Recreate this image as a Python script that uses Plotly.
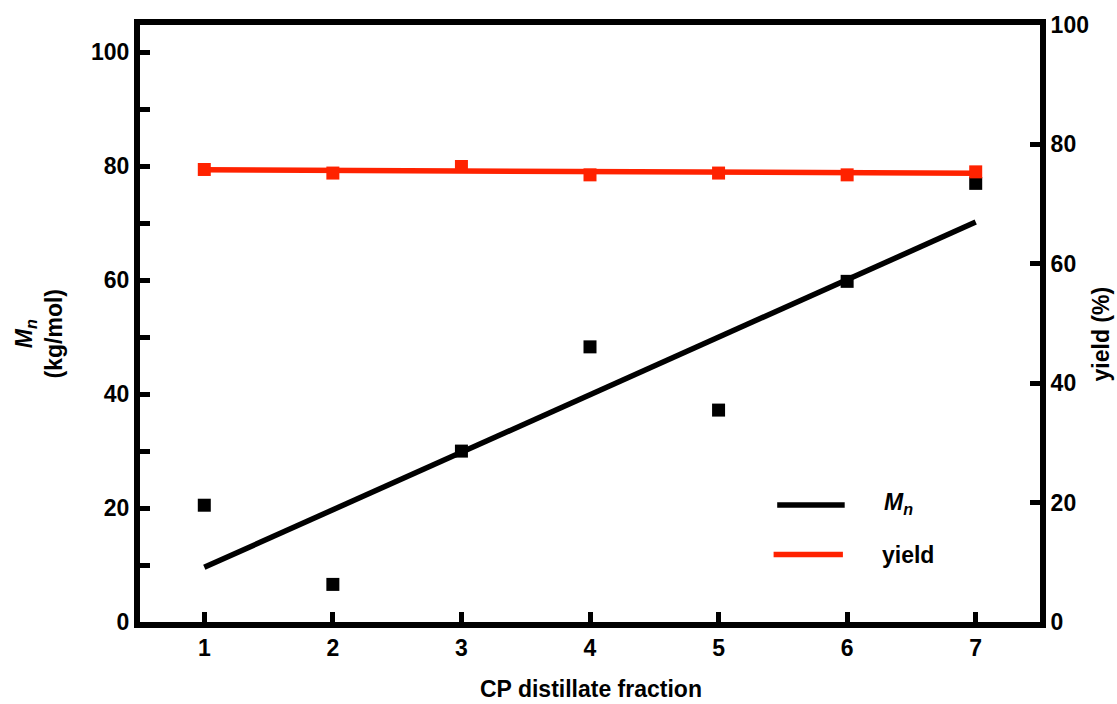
import plotly.graph_objects as go

# ---- data ----
fraction = [1, 2, 3, 4, 5, 6, 7]
mn_kg_mol = [20.5, 6.6, 30.0, 48.3, 37.2, 59.8, 77.0]
yield_pct = [75.8, 75.2, 76.3, 74.9, 75.2, 74.9, 75.4]
fit_x = [1, 7]
mn_fit = [9.6, 70.2]
yield_fit = [75.75, 75.15]
x_ticks = [1, 2, 3, 4, 5, 6, 7]
left_ticks = [0, 20, 40, 60, 80, 100]
left_minor = [10, 30, 50, 70, 90]
right_ticks = [0, 20, 40, 60, 80, 100]

RED = "#ff2200"
FONT = "Liberation Sans"

fig = go.Figure()
fig.add_trace(go.Scatter(x=fit_x, y=mn_fit, mode="lines",
                         line=dict(color="black", width=5.5), yaxis="y", showlegend=False))
fig.add_trace(go.Scatter(x=fraction, y=mn_kg_mol, mode="markers",
                         marker=dict(symbol="square", size=13, color="black"),
                         yaxis="y", showlegend=False))
fig.add_trace(go.Scatter(x=fit_x, y=yield_fit, mode="lines",
                         line=dict(color=RED, width=5.5), yaxis="y2", showlegend=False))
fig.add_trace(go.Scatter(x=fraction, y=yield_pct, mode="markers",
                         marker=dict(symbol="square", size=13, color=RED),
                         yaxis="y2", showlegend=False))

tickfont = dict(family=FONT, size=23, color="black", weight="bold")

fig.update_layout(
    width=1117, height=704,
    margin=dict(l=140, r=77, t=20, b=82),
    paper_bgcolor="white", plot_bgcolor="white",
    xaxis=dict(range=[0.5, 7.5], tickvals=x_ticks, ticks="inside", ticklen=10,
               tickwidth=5, tickcolor="black", showline=True, linewidth=6,
               linecolor="black", mirror=True, showgrid=False, zeroline=False,
               tickfont=tickfont),
    yaxis=dict(range=[0, 104.8], tickvals=left_ticks, ticks="inside", ticklen=10,
               tickwidth=5, tickcolor="black", showline=True, linewidth=6,
               linecolor="black", showgrid=False, zeroline=False, tickfont=tickfont,
               minor=dict(tickvals=left_minor, ticks="inside", ticklen=10,
                          tickwidth=5, tickcolor="black", showgrid=False)),
    yaxis2=dict(range=[0, 100], tickvals=right_ticks, ticks="inside", ticklen=10,
                tickwidth=5, tickcolor="black", showline=True, linewidth=6,
                linecolor="black", showgrid=False, zeroline=False, tickfont=tickfont,
                overlaying="y", side="right"),
)

titlefont = dict(family=FONT, size=23, color="black", weight="bold")
fig.add_annotation(text="CP distillate fraction", xref="paper", yref="paper",
                   x=0.501, y=-0.113, xanchor="center", yanchor="middle",
                   showarrow=False, font=titlefont)
fig.add_annotation(text="<i>M<sub>n</sub></i><br>(kg/mol)", xref="paper", yref="paper",
                   x=-0.112, y=0.482, xanchor="center", yanchor="middle",
                   textangle=-90, showarrow=False, font=titlefont)
fig.add_annotation(text="yield (%)", xref="paper", yref="paper",
                   x=1.068, y=0.482, xanchor="center", yanchor="middle",
                   textangle=-90, showarrow=False, font=titlefont)

# legend
fig.add_shape(type="line", xref="paper", yref="paper", x0=0.708, x1=0.783, y0=0.196, y1=0.196,
              line=dict(color="black", width=5.5))
fig.add_shape(type="line", xref="paper", yref="paper", x0=0.704, x1=0.781, y0=0.113, y1=0.113,
              line=dict(color=RED, width=5.5))
fig.add_annotation(text="<i>M<sub>n</sub></i>", xref="paper", yref="paper",
                   x=0.824, y=0.198, xanchor="left", yanchor="middle",
                   showarrow=False, font=titlefont)
fig.add_annotation(text="yield", xref="paper", yref="paper",
                   x=0.822, y=0.113, xanchor="left", yanchor="middle",
                   showarrow=False, font=titlefont)

fig.write_html("out.html", config={"displayModeBar": False},
               post_script="document.body.style.margin='0';document.body.style.overflow='hidden';")
